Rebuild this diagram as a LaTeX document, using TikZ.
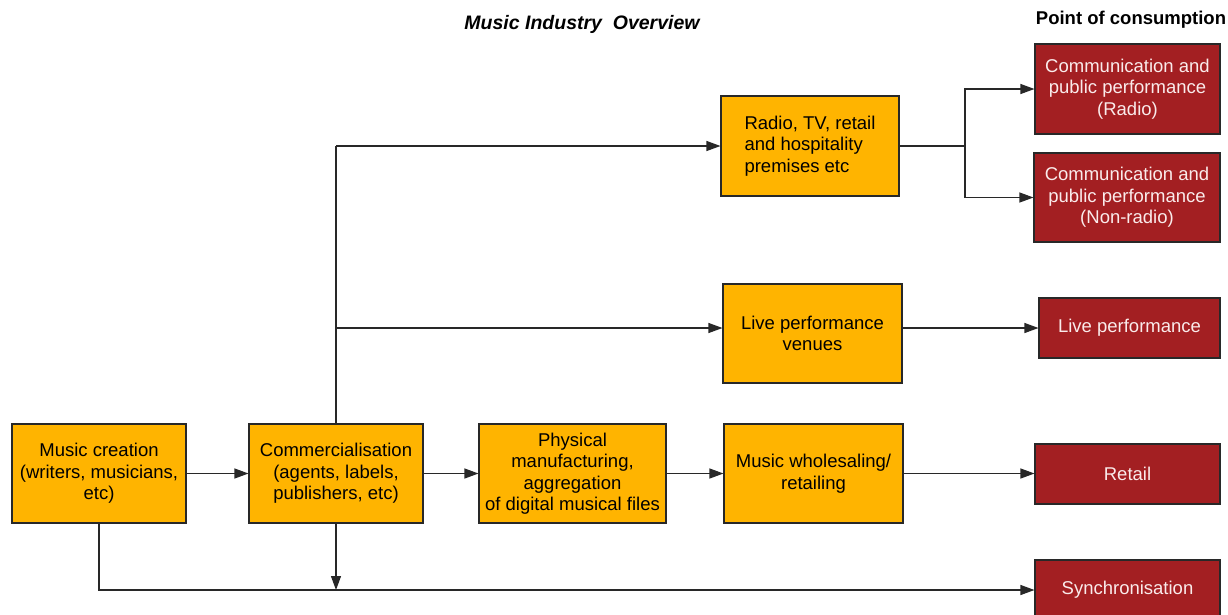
\documentclass[tikz,border=0pt]{standalone}
\usepackage{fontspec}
\setmainfont{Liberation Sans}
\usetikzlibrary{arrows.meta}
\definecolor{orangebox}{RGB}{255,180,0}
\definecolor{redbox}{RGB}{163,31,34}
\definecolor{edgegray}{RGB}{40,40,40}
\definecolor{palewhite}{RGB}{250,235,235}
\begin{document}
\begin{tikzpicture}[x=1pt,y=-1pt,
  every node/.style={font=\fontsize{18.5}{21.5}\selectfont, inner sep=0pt},
  obox/.style={draw=edgegray, line width=1.1pt, fill=orangebox, text=black, align=center, minimum width=#1},
  rbox/.style={draw=edgegray, line width=1.1pt, fill=redbox, text=palewhite, align=center, minimum width=#1},
  conn/.style={draw=edgegray, line width=1.1pt},
  arr/.style={conn, -{Triangle[length=14pt,width=10pt]}},
  hdr/.style={font=\fontsize{18}{22}\selectfont\bfseries}
]
\useasboundingbox (0,0) rectangle (1228,614);
\fill[white] (0,0) rectangle (1228,614);

% titles
\node[hdr, font=\fontsize{19.5}{22}\selectfont\bfseries\itshape] (title) at (582,24) {Music Industry\ \ Overview};
\node[hdr, font=\fontsize{18.5}{22}\selectfont\bfseries] (poc) at (1131,20) {Point of consumption};

% orange boxes
\node[obox=174pt, minimum height=99pt] (mc) at (99,473.5) {Music creation\\(writers, musicians,\\etc)};
\node[obox=174pt, minimum height=99pt] (com) at (336,473.5) {Commercialisation\\(agents, labels,\\publishers, etc)};
\node[obox=187pt, minimum height=99pt] (phys) at (572.5,473.5) {Physical\\manufacturing,\\aggregation\\of digital musical files};
\node[obox=179pt, minimum height=99pt] (whole) at (813.5,473.5) {Music wholesaling/\\retailing};
\node[obox=178pt, minimum height=100pt, align=left] (radio) at (810,146) {Radio, TV, retail\\and hospitality\\premises etc};
\node[obox=179pt, minimum height=99pt] (live) at (812.5,333.5) {Live performance\\venues};

% red boxes
\node[rbox=185pt, minimum height=90pt] (cr) at (1127.5,89) {Communication and\\public performance\\(Radio)};
\node[rbox=186pt, minimum height=89pt] (cn) at (1127,197.5) {Communication and\\public performance\\(Non-radio)};
\node[rbox=181pt, minimum height=60pt] (lp) at (1129.5,328) {Live performance};
\node[rbox=185pt, minimum height=60pt] (ret) at (1127.5,474) {Retail};
\node[rbox=185pt, minimum height=60pt] (sync) at (1127.5,590) {Synchronisation};

% connectors
\draw[arr] (mc.east) -- (com.west);
\draw[arr] (com.east) -- (phys.west);
\draw[arr] (phys.east) -- (whole.west);
\draw[arr] (whole.east) -- (whole.east -| ret.west);

\coordinate (br) at (965,146);
\draw[conn] (radio.east) -- (br);
\draw[arr] (br) |- (cr.west);
\draw[arr] (br) |- (cn.west);

\coordinate (jl) at (336,328);
\draw[arr] (jl -| live.east) -- (lp.west);

\draw[conn] (com.north) -- (com.north |- radio.west);
\draw[arr] (com.north |- radio.west) -- (radio.west);
\draw[arr] (jl) -- (jl -| live.west);

\draw[arr] (mc.south) |- (sync.west);
\draw[arr] (com.south) -- (com.south |- sync.west);
\end{tikzpicture}
\end{document}
